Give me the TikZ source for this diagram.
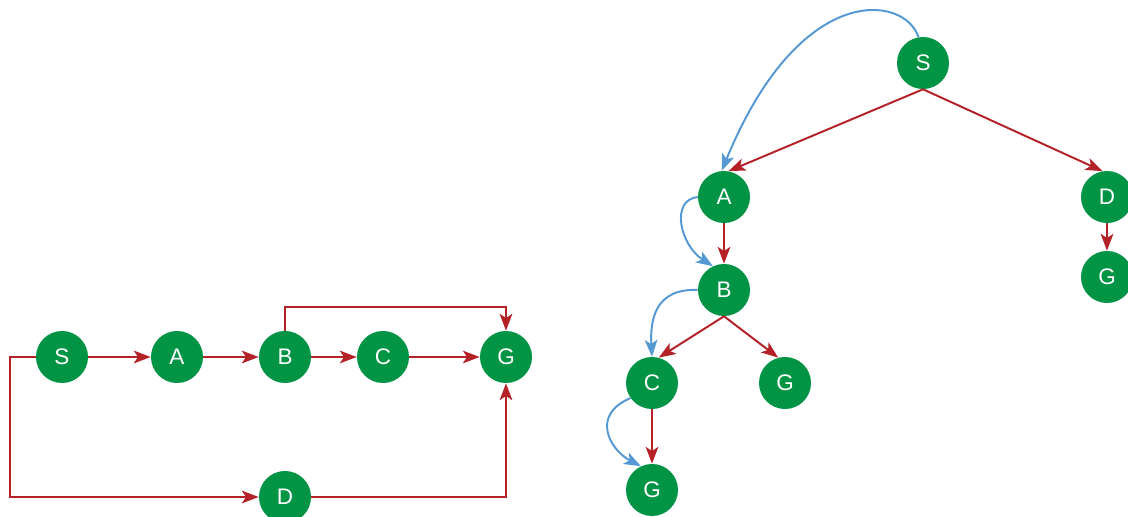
\documentclass[tikz,border=0pt]{standalone}
\usepackage{fontspec}
\setmainfont{Liberation Sans}
\usetikzlibrary{arrows.meta}

\definecolor{nodegreen}{RGB}{0,148,68}
\definecolor{edgered}{RGB}{180,34,40}
\definecolor{searchblue}{RGB}{84,152,212}

\begin{document}
\begin{tikzpicture}[x=0.025cm, y=-0.025cm,
    state/.style={circle, fill=nodegreen, text=white, minimum size=1.3cm,
      inner sep=0pt, font=\fontsize{16}{19}\selectfont},
    edge/.style={draw=edgered, line width=1.4pt,
      -{Stealth[length=12pt, width=9pt, inset=3pt, fill=edgered]}},
    trace/.style={draw=searchblue, line width=1.4pt,
      -{Stealth[length=12pt, width=9pt, inset=3pt, fill=searchblue]}}]

  \useasboundingbox (0,0) rectangle (1128,517);
  \clip (0,0) rectangle (1128,517);

  % Graph
  \node[state] (s)  at (62,357)  {S};
  \node[state] (a)  at (177,357) {A};
  \node[state] (b)  at (285,357) {B};
  \node[state] (c)  at (383,357) {C};
  \node[state] (g)  at (506,357) {G};
  \node[state] (d)  at (285,497) {D};

  \coordinate (lc) at (10,357);
  \coordinate (bt) at (285,307);

  \draw[edge] (s) -- (a);
  \draw[edge] (a) -- (b);
  \draw[edge] (b) -- (c);
  \draw[edge] (c) -- (g);
  \draw[edge] (b) -- (bt) -| (g);
  \draw[edge] (s) -- (lc) |- (d);
  \draw[edge] (d) -| (g);

  % Search tree
  \node[state] (ts)  at (923,63)  {S};
  \node[state] (ta)  at (724,197) {A};
  \node[state] (td)  at (1107,197) {D};
  \node[state] (tg1) at (1107,277) {G};
  \node[state] (tb)  at (724,290) {B};
  \node[state] (tc)  at (652,383) {C};
  \node[state] (tg2) at (785,383) {G};
  \node[state] (tg3) at (652,490) {G};

  \draw[edge] (ts.south) -- (ta.80);
  \draw[edge] (ts.south) -- (td.100);
  \draw[edge] (ta) -- (tb);
  \draw[edge] (td) -- (tg1);
  \draw[edge] (tb.south) -- (tc.75);
  \draw[edge] (tb.south) -- (tg2.105);
  \draw[edge] (tc) -- (tg3);

  % order of expansion
  \draw[trace] (ts.100) .. controls (905,-5) and (800,-20) .. (ta.95);
  \draw[trace] (ta.west) .. controls (670,200) and (680,245) .. (tb.115);
  \draw[trace] (tb.west) .. controls (655,288) and (650,320) .. (tc.north);
  \draw[trace] (tc.215) .. controls (590,415) and (610,450) .. (tg3.115);

\end{tikzpicture}
\end{document}
